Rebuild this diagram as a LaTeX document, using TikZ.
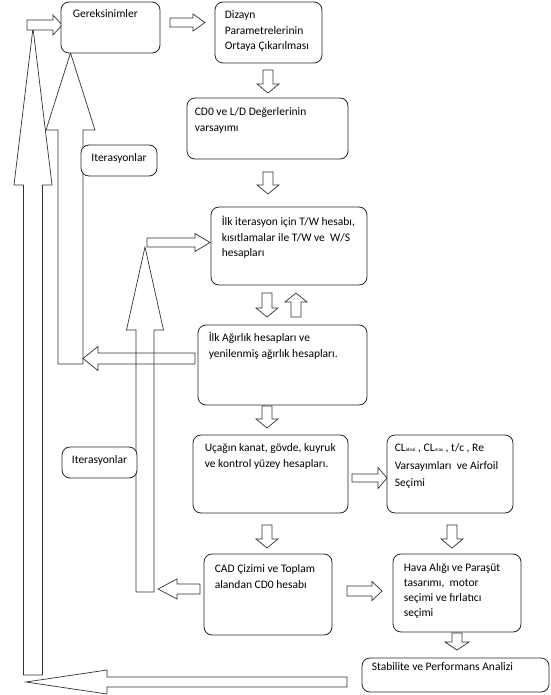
\documentclass[tikz,border=0pt]{standalone}
\usepackage{fontspec}
\setmainfont{Carlito}
\usetikzlibrary{calc,fit}
\tikzset{
  box/.style={draw=black!85, line width=0.8pt, rounded corners=8pt, inner sep=0pt, fill=white},
  txt/.style={inner sep=0pt, anchor=north west, align=left, font=\fontsize{11.5}{15.5}\selectfont},
  ctxt/.style={inner sep=0pt, align=center, font=\fontsize{11.5}{15.5}\selectfont},
  blockarr/.style={draw=black!80, line width=0.7pt, line join=miter},
}
% #1 start, #2 tip, #3 shaft half width, #4 head half width, #5 head length, #6 extra style
\newcommand{\blockarrow}[6]{%
  \coordinate (ba-s) at (#1);
  \coordinate (ba-t) at (#2);
  \coordinate (ba-h) at ($(ba-t)!#5!(ba-s)$);
  \draw[blockarr,#6] ($(ba-s)!#3!90:(ba-t)$) -- ($(ba-h)!#3!90:(ba-t)$) -- ($(ba-h)!#4!90:(ba-t)$) -- (ba-t)
     -- ($(ba-h)!#4!-90:(ba-t)$) -- ($(ba-h)!#3!-90:(ba-t)$) -- ($(ba-s)!#3!-90:(ba-t)$) -- cycle;}
\begin{document}
\begin{tikzpicture}[x=1pt,y=-1pt]
\useasboundingbox[fill=white] (0,0) rectangle (550,695);

% ---- big return arrows (unfilled, drawn first)
\blockarrow{347,682}{26,682}{5pt}{12pt}{81pt}{}
\blockarrow{33,675}{33,28}{9.5pt}{19pt}{157pt}{}
\blockarrow{70.5,364}{70.5,53}{12.5pt}{24.5pt}{77pt}{}
\blockarrow{195,358.5}{83,358.5}{5.5pt}{12pt}{15pt}{}
\blockarrow{145,592}{145,247}{9pt}{18.5pt}{83pt}{}
% small arrows at the tips
\blockarrow{27,25}{62,25}{5pt}{10pt}{9pt}{fill=white}
\blockarrow{147,242.5}{210,242.5}{4.5pt}{9pt}{15pt}{fill=white}

% ---- flow arrows
\blockarrow{170,22.5}{205,22.5}{4.5pt}{8.5pt}{12pt}{}
\blockarrow{268,70}{268,93}{5pt}{11pt}{9pt}{}
\blockarrow{268,172}{268,194}{5pt}{11pt}{9pt}{}
\blockarrow{267,293}{267,317}{5pt}{11pt}{9pt}{}
\blockarrow{296,317}{296,293}{5pt}{11pt}{9pt}{}
\blockarrow{267,406}{267,428}{5pt}{11pt}{9pt}{}
\blockarrow{352,478}{387,478}{4pt}{10.5pt}{9pt}{}
\blockarrow{267,525}{267,548}{5pt}{11pt}{9pt}{}
\blockarrow{452,525}{452,548}{5pt}{11pt}{9pt}{}
\blockarrow{200,589}{158,589}{5pt}{10pt}{19pt}{}
\blockarrow{347,591}{382,591}{5pt}{9.5pt}{10pt}{}
\blockarrow{457,633}{457,650}{5pt}{12pt}{8pt}{}

% ---- boxes
\node[box, fit={(61,2) (160,53)}] (ger) {};
\node[box, fit={(215,2) (322,63)}] (diz) {};
\node[box, fit={(187,98) (348,159)}] (cd) {};
\node[box, fit={(81,145) (157,176)}] (it1) {};
\node[box, fit={(211,207) (367,285)}] (ilk) {};
\node[box, fit={(198,325) (367,405)}] (agr) {};
\node[box, fit={(193,435) (348,513)}] (uca) {};
\node[box, fit={(387,435) (513,513)}] (cl) {};
\node[box, fit={(62,447) (137,478)}] (it2) {};
\node[box, fit={(204,554) (332,635)}] (cad) {};
\node[box, fit={(393,554) (521,632)}] (hav) {};
\node[box, fit={(362,658) (549,692)}] (sta) {};

% ---- texts
\node[txt] (ger-t) at ($(ger.north west)+(12,5)$) {\strut Gereksinimler};
\node[txt] (diz-t) at ($(diz.north west)+(10,6)$) {\strut Dizayn\\Parametrelerinin\\Ortaya Çıkarılması};
\node[txt] (cd-t) at ($(cd.north west)+(8,7)$) {\strut CD0 ve L/D Değerlerinin\\varsayımı};
\node[ctxt] (it1-t) at ($(it1.center)+(0,-2)$) {Iterasyonlar};
\node[txt] (ilk-t) at ($(ilk.north west)+(11,8)$) {\strut İlk iterasyon için T/W hesabı,\\kısıtlamalar ile T/W ve \ W/S\\hesapları};
\node[txt] (agr-t) at ($(agr.north west)+(11,6)$) {\strut İlk Ağırlık hesapları ve\\yenilenmiş ağırlık hesapları.};
\node[txt] (uca-t) at ($(uca.north west)+(12,6)$) {\strut Uçağın kanat, gövde, kuyruk\\ve kontrol yüzey hesapları.};
\node[txt, font=\fontsize{11.5}{17.5}\selectfont] (cl-t) at ($(cl.north west)+(8,4.5)$) {\strut CL{\fontsize{5}{6}\selectfont ideal} , CL{\fontsize{5}{6}\selectfont max} , t/c , Re\\Varsayımları \ ve Airfoil\\Seçimi};
\node[ctxt] (it2-t) at ($(it2.center)+(0,-2)$) {Iterasyonlar};
\node[txt] (cad-t) at ($(cad.north west)+(11,8)$) {\strut CAD Çizimi ve Toplam\\alandan CD0 hesabı};
\node[txt, font=\fontsize{11.5}{15}\selectfont] (hav-t) at ($(hav.north west)+(11,7)$) {\strut Hava Alığı ve Paraşüt\\tasarımı, \ motor\\seçimi ve fırlatıcı\\seçimi};
\node[txt] (sta-t) at ($(sta.north west)+(10,2)$) {\strut Stabilite ve Performans Analizi};
\end{tikzpicture}
\end{document}
